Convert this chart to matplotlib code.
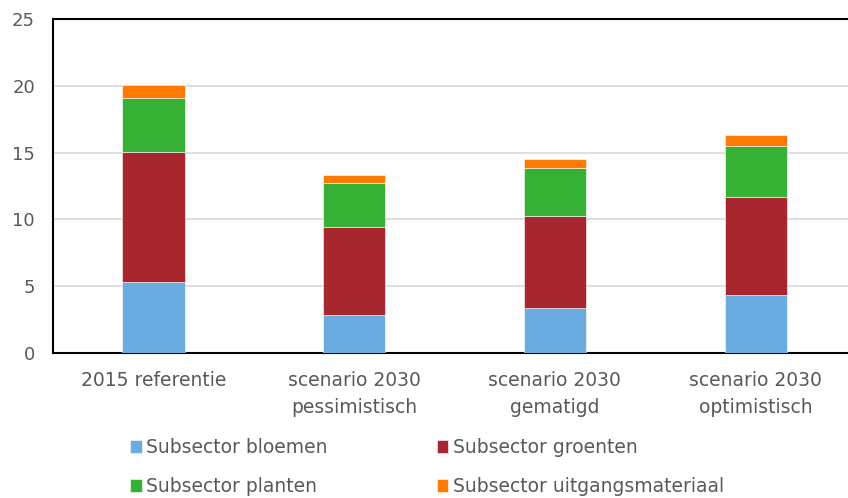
import matplotlib
matplotlib.use('Agg')
import matplotlib.pyplot as plt
import numpy as np

categories = ['2015 referentie', 'scenario 2030\npessimistisch',
              'scenario 2030\ngematigd', 'scenario 2030\noptimistisch']
series_names = ['Subsector bloemen', 'Subsector groenten',
                'Subsector planten', 'Subsector uitgangsmateriaal']
bloemen = [5.29, 2.82, 3.37, 4.34]
groenten = [9.78, 6.61, 6.88, 7.31]
planten = [4.02, 3.32, 3.57, 3.87]
uitgangsmateriaal = [0.97, 0.55, 0.70, 0.80]
colors = ['#6aace2', '#a8272f', '#36b136', '#ff7b00']
yticks = [0, 5, 10, 15, 20, 25]

plt.rcParams['font.family'] = ['DejaVu Sans']
text_color = '#595959'

fig = plt.figure(figsize=(8.48, 4.98), dpi=100)
ax = fig.add_axes([0.0625, 0.291, 0.947, 0.671])

x = np.arange(len(categories))
bottom = np.zeros(len(categories))
handles = []
for name, vals, col in zip(series_names,
                           [bloemen, groenten, planten, uitgangsmateriaal],
                           colors):
    b = ax.bar(x, vals, 0.31, bottom=bottom, color=col, label=name,
               edgecolor='white', linewidth=0.4, zorder=3)
    handles.append(b)
    bottom += np.array(vals)

ax.set_xlim(-0.5, 3.5)
ax.set_ylim(0, 25)
ax.set_yticks(yticks)
ax.set_xticks(x)
ax.set_xticklabels(categories, linespacing=1.55, fontsize=13.5)

# gridlines
ax.grid(axis='y', color='#d9d9d9', linewidth=1.2, zorder=0)
ax.set_axisbelow(True)

for s in ['top', 'left', 'bottom']:
    ax.spines[s].set_color('black')
    ax.spines[s].set_linewidth(1.5)
ax.spines['right'].set_visible(False)

ax.tick_params(axis='both', length=0, colors=text_color)
ax.tick_params(axis='y', pad=13, labelsize=13)
ax.tick_params(axis='x', pad=13)

# legend, filled by column
order = [0, 2, 1, 3]
fig.legend([handles[i] for i in order], [series_names[i] for i in order],
           ncol=2, loc='upper left', bbox_to_anchor=(0.1533, 0.1195),
           frameon=False, fontsize=13.5, labelcolor=text_color,
           handlelength=0.62, handleheight=0.7, handletextpad=0.25,
           columnspacing=5.8, labelspacing=1.05, borderpad=0,
           borderaxespad=0)

plt.savefig('out.png', dpi=100)
